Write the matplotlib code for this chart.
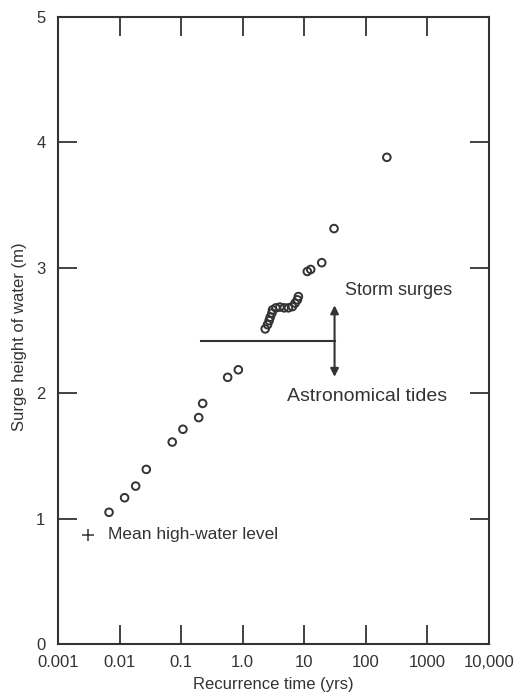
import matplotlib
matplotlib.use("Agg")
import matplotlib.pyplot as plt

plt.rcParams['font.family'] = ['Liberation Sans', 'DejaVu Sans']

# Data
recurrence_yrs = [0.00676, 0.0121, 0.0183, 0.0272, 0.0718, 0.107, 0.193, 0.224,
                  0.570, 0.849,
                  2.32, 2.53, 2.69, 2.80, 2.98, 3.05, 3.46, 4.01, 4.71, 5.53,
                  6.42, 7.10, 7.73, 8.02,
                  11.2, 12.7, 19.2, 30.4, 219]
surge_height_m = [1.050, 1.166, 1.259, 1.392, 1.610, 1.712, 1.805, 1.918,
                  2.126, 2.186,
                  2.512, 2.546, 2.578, 2.606, 2.638, 2.664, 2.680, 2.686, 2.680, 2.680,
                  2.690, 2.718, 2.744, 2.770,
                  2.970, 2.986, 3.040, 3.312, 3.880]

mean_high_water = (0.0031, 0.872)
tide_level_x = [0.21, 31.0]
tide_level_y = 2.416
arrow_x = 31.0
arrow_top = 2.70
arrow_bottom = 2.13

x_ticks = [0.001, 0.01, 0.1, 1.0, 10, 100, 1000, 10000]
x_tick_labels = ['0.001', '0.01', '0.1', '1.0', '10', '100', '1000', '10,000']
y_ticks = [0, 1, 2, 3, 4, 5]

ink = '#333333'

fig = plt.figure(figsize=(5.17, 6.93), dpi=100)
ax = fig.add_axes([0.112, 0.0707, 0.834, 0.905])

ax.scatter(recurrence_yrs, surge_height_m, s=30, facecolors='none',
           edgecolors=ink, linewidths=1.4, zorder=3)
ax.plot([mean_high_water[0]], [mean_high_water[1]], marker='+', color=ink,
        markersize=9, markeredgewidth=1.1, linestyle='none')
ax.text(0.0066, mean_high_water[1], 'Mean high-water level', fontsize=12.5,
        color=ink, va='center', ha='left')

ax.plot(tide_level_x, [tide_level_y, tide_level_y], color=ink, lw=1.5)
ax.annotate('', xy=(arrow_x, arrow_top), xytext=(arrow_x, tide_level_y),
            arrowprops=dict(arrowstyle='-|>', color=ink, lw=1.5,
                            mutation_scale=12, shrinkA=0, shrinkB=0))
ax.annotate('', xy=(arrow_x, arrow_bottom), xytext=(arrow_x, tide_level_y),
            arrowprops=dict(arrowstyle='-|>', color=ink, lw=1.5,
                            mutation_scale=12, shrinkA=0, shrinkB=0))
ax.text(45, 2.82, 'Storm surges', fontsize=13, color=ink, va='center', ha='left')
ax.text(5.3, 1.97, 'Astronomical tides', fontsize=14, color=ink, va='center',
        ha='left')

ax.set_xscale('log')
ax.set_xlim(0.001, 10000)
ax.set_ylim(0, 5)
ax.set_xticks(x_ticks)
ax.set_xticklabels(x_tick_labels)
ax.set_yticks(y_ticks)
ax.minorticks_off()
ax.tick_params(direction='in', length=14, width=1.3, color=ink,
               top=True, right=True, labelsize=12, labelcolor=ink)
ax.tick_params(axis='y', pad=9)
ax.tick_params(axis='x', pad=8)
for sp in ax.spines.values():
    sp.set_color(ink)
    sp.set_linewidth(1.5)

ax.set_xlabel('Recurrence time (yrs)', fontsize=12, color=ink, labelpad=5)
ax.set_ylabel('Surge height of water (m)', fontsize=12, color=ink)
ax.yaxis.set_label_coords(-0.072, 0.49)

fig.savefig('out.png', dpi=100)
